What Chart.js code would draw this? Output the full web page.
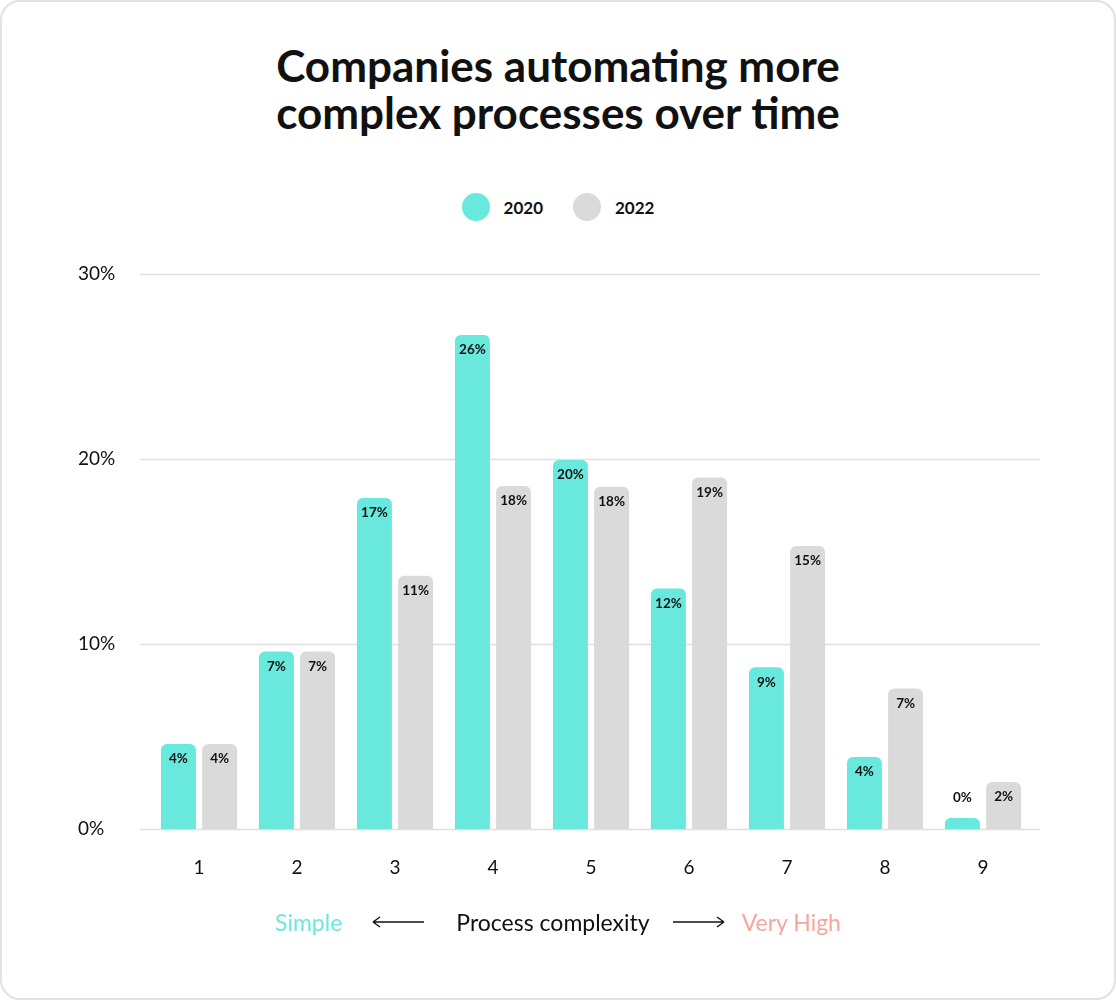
<!DOCTYPE html>
<html>
<head>
<meta charset="utf-8">
<script src="https://cdn.jsdelivr.net/npm/chart.js@4"></script>
<style>
  html, body { margin: 0; padding: 0; background: #fff; }
  body { width: 1116px; height: 1000px; position: relative; font-family: Lato, "Noto Sans", sans-serif; color: #111; }
  .card { position: absolute; left: 0; top: 0; width: 1112px; height: 996px; border: 2px solid #e2e2e2; border-radius: 20px; }
  h1 { position: absolute; top: 42px; left: 0; width: 1116px; margin: 0; text-align: center; font-size: 44px; line-height: 47px; font-weight: 700; letter-spacing: 0px; }
  .legend { position: absolute; top: 193px; left: 0; width: 1116px; display: flex; justify-content: center; gap: 30px; font-size: 17px; font-weight: 700; }
  .legend span { display: flex; align-items: center; }
  .legend i { display: inline-block; width: 28px; height: 28px; border-radius: 50%; margin-right: 14px; }
  .wrap { position: absolute; left: 0; top: 240px; width: 1116px; height: 678px; }
  .xtitle { position: absolute; top: 908px; left: 0; width: 1116px; display: flex; justify-content: center; align-items: center; font-size: 23px; }
  .xtitle svg { display: block; }
</style>
</head>
<body>
<div class="card"></div>
<h1>Companies automating more<br>complex processes over time</h1>
<div class="legend">
  <span><i style="background:#69e9dd"></i>2020</span>
  <span><i style="background:#dadada"></i>2022</span>
</div>
<div class="wrap"><canvas id="myChart"></canvas></div>
<div class="xtitle">
  <span style="color:#69e9dd">Simple</span>
  <svg width="52" height="14" style="margin:0 32px 0 30px"><path d="M1 7H52M1 7L8 2M1 7L8 12" stroke="#111" stroke-width="1.4" fill="none"/></svg>
  <span>Process complexity</span>
  <svg width="52" height="14" style="margin:0 17px 0 23px"><path d="M0 7H51M51 7L44 2M51 7L44 12" stroke="#111" stroke-width="1.4" fill="none"/></svg>
  <span style="color:#f8a59b">Very High</span>
</div>
<script>
// categories and values
var categories = ["1", "2", "3", "4", "5", "6", "7", "8", "9"];
var values2020 = [4.6, 9.6, 17.9, 26.7, 19.95, 13.0, 8.75, 3.9, 0.6];
var values2022 = [4.6, 9.6, 13.7, 18.55, 18.5, 19.0, 15.3, 7.6, 2.55];
// printed labels (they don't always match bar heights in the original)
var labels2020 = ["4%", "7%", "17%", "26%", "20%", "12%", "9%", "4%", "0%"];
var labels2022 = ["4%", "7%", "11%", "18%", "18%", "19%", "15%", "7%", "2%"];
var yTicks = [0, 10, 20, 30];

var gridPlugin = {
  id: "grid",
  beforeDatasetsDraw: function (chart) {
    var ctx = chart.ctx, y = chart.scales.y, a = chart.chartArea;
    ctx.save();
    ctx.strokeStyle = "#e0e0e0";
    ctx.lineWidth = 1.5;
    yTicks.forEach(function (t) {
      var py = Math.round(y.getPixelForValue(t)) + 0.5;
      ctx.beginPath();
      ctx.moveTo(a.left - 10, py);
      ctx.lineTo(a.right + 8, py);
      ctx.stroke();
    });
    ctx.restore();
  }
};

var labelPlugin = {
  id: "barLabels",
  afterDatasetsDraw: function (chart) {
    var ctx = chart.ctx;
    ctx.save();
    ctx.font = "700 13.5px Lato";
    ctx.fillStyle = "#111";
    ctx.textAlign = "center";
    ctx.textBaseline = "middle";
    chart.data.datasets.forEach(function (ds, i) {
      var meta = chart.getDatasetMeta(i);
      meta.data.forEach(function (bar, j) {
        var h = bar.base - bar.y;
        var ty = h > 28 ? bar.y + 15 : bar.y - 20;
        ctx.fillText(ds.printed[j], bar.x, ty);
      });
    });
    ctx.restore();
  }
};

var config = {
  type: "bar",
  data: {
    labels: categories,
    datasets: [
      {
        label: "2020",
        data: values2020,
        printed: labels2020,
        backgroundColor: "#69e9dd",
        borderRadius: 6,
        borderSkipped: "start"
      },
      {
        label: "2022",
        data: values2022,
        printed: labels2022,
        backgroundColor: "#dadada",
        borderRadius: 6,
        borderSkipped: "start"
      }
    ]
  },
  options: {
    responsive: true,
    maintainAspectRatio: false,
    animation: false,
    categoryPercentage: 0.84,
    barPercentage: 0.85,
    layout: { padding: { left: 78, right: 84, top: 34, bottom: 12 } },
    plugins: {
      legend: { display: false },
      tooltip: { enabled: false }
    },
    scales: {
      x: {
        grid: { display: false, drawTicks: false },
        border: { display: false },
        ticks: { color: "#111", font: { family: "Lato", size: 19 }, padding: 27 }
      },
      y: {
        min: 0,
        max: 30,
        afterFit: function (scale) { scale.width = 72; },
        afterBuildTicks: function (scale) {
          scale.ticks = yTicks.map(function (v) { return { value: v }; });
        },
        grid: { display: false, drawTicks: false },
        border: { display: false },
        ticks: {
          color: "#111",
          crossAlign: "far",
          padding: 0,
          font: { family: "Lato", size: 19 },
          callback: function (v) { return v + "%"; }
        }
      }
    }
  },
  plugins: [gridPlugin, labelPlugin]
};

var ctx = document.getElementById("myChart").getContext("2d");
new Chart(ctx, config);
</script>
</body>
</html>
